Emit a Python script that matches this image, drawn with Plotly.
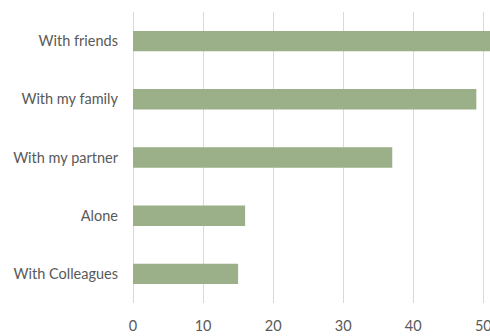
import plotly.graph_objects as go

categories = ["With Colleagues", "Alone", "With my partner", "With my family", "With friends"]
values = [15, 16, 37, 49, 52]
x_ticks = [0, 10, 20, 30, 40, 50]

fig = go.Figure(go.Bar(
    x=values, y=categories, orientation="h",
    marker=dict(color="#9BAF88", line=dict(width=0)),
    width=0.35,
))

fig.update_layout(
    width=490, height=336,
    margin=dict(l=133, r=0, t=12, b=33, autoexpand=False),
    paper_bgcolor="white", plot_bgcolor="white",
    font=dict(family="Lato, Open Sans, sans-serif", size=14.5, color="#595959"),
    showlegend=False,
    xaxis=dict(
        range=[0, 50.95], tickvals=x_ticks, ticktext=[str(t) for t in x_ticks],
        showgrid=True, gridcolor="#D9D9D9", gridwidth=1,
        zeroline=True, zerolinecolor="#D9D9D9", zerolinewidth=1,
        showline=False, ticks="", ticklabelstandoff=12,
        ticklabeloverflow="allow", automargin=False,
        fixedrange=True,
    ),
    yaxis=dict(
        categoryorder="array", categoryarray=categories,
        showgrid=False, zeroline=False, showline=False, ticks="",
        ticklabelstandoff=14, automargin=False,
    ),
)

fig.write_html(
    "out.html",
    config={"displayModeBar": False},
    post_script="document.body.style.margin='0';document.body.style.overflow='hidden';",
)
